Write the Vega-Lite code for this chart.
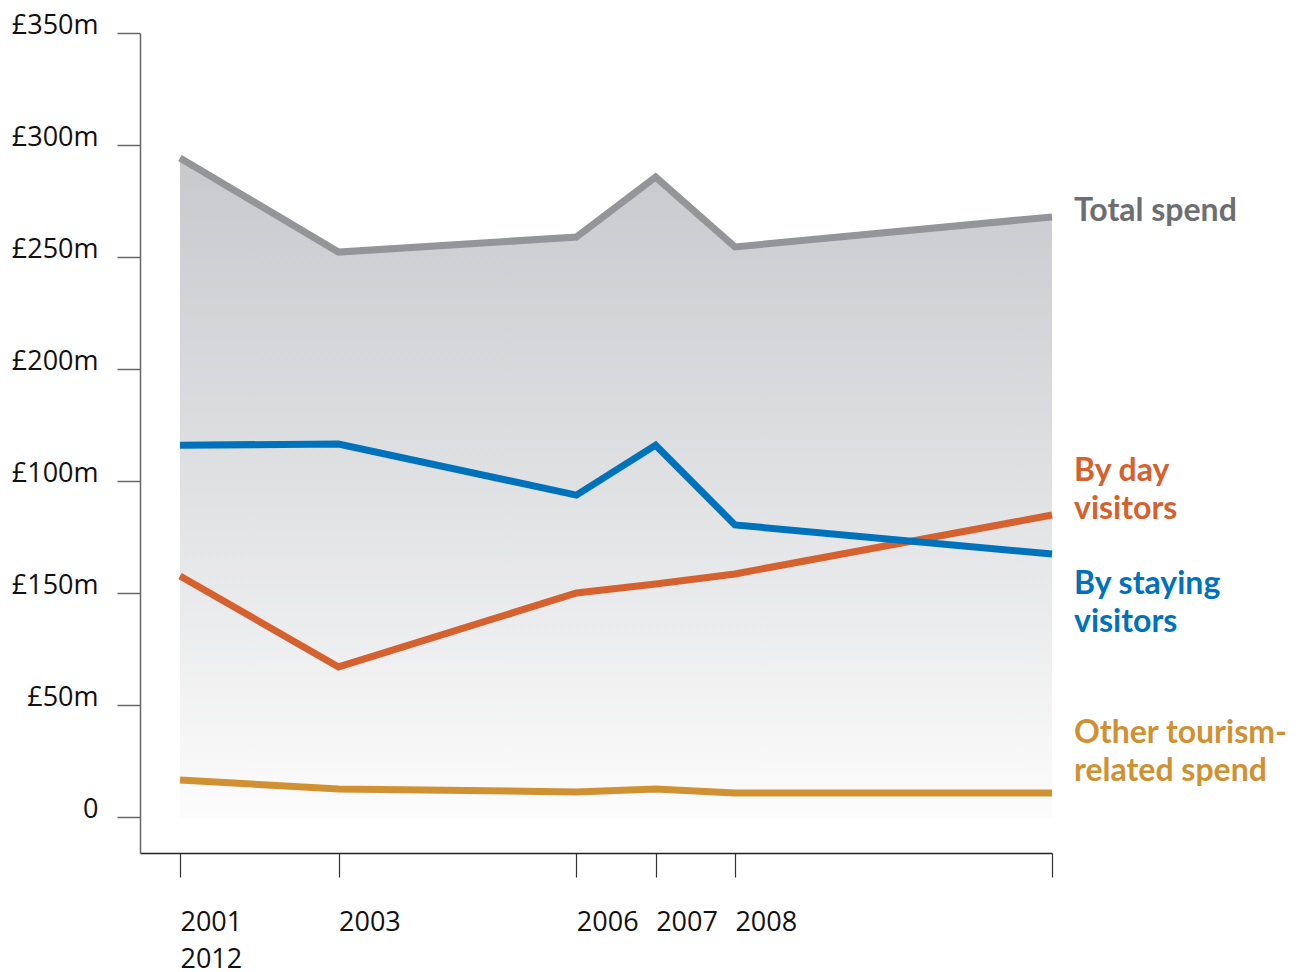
{
  "$schema": "https://vega.github.io/schema/vega-lite/v6.json",
  "autosize": {"type": "none"},
  "padding": {"left": 140, "top": 33, "right": 256, "bottom": 119},
  "width": 912,
  "height": 820,
  "background": "#ffffff",
  "config": {
    "view": {"stroke": null},
    "axis": {"grid": false, "title": null}
  },
  "datasets": {
    "spend": [
      {"year": 2001, "series": "Total spend", "value": 294.2},
      {"year": 2003, "series": "Total spend", "value": 252.2},
      {"year": 2006, "series": "Total spend", "value": 258.9},
      {"year": 2007, "series": "Total spend", "value": 285.7},
      {"year": 2008, "series": "Total spend", "value": 254.5},
      {"year": 2012, "series": "Total spend", "value": 267.9},
      {"year": 2001, "series": "By day visitors", "value": 107.6},
      {"year": 2003, "series": "By day visitors", "value": 67.0},
      {"year": 2006, "series": "By day visitors", "value": 100.0},
      {"year": 2007, "series": "By day visitors", "value": 104.0},
      {"year": 2008, "series": "By day visitors", "value": 108.5},
      {"year": 2012, "series": "By day visitors", "value": 134.8},
      {"year": 2001, "series": "By staying visitors", "value": 166.0},
      {"year": 2003, "series": "By staying visitors", "value": 166.5},
      {"year": 2006, "series": "By staying visitors", "value": 143.7},
      {"year": 2007, "series": "By staying visitors", "value": 166.0},
      {"year": 2008, "series": "By staying visitors", "value": 130.4},
      {"year": 2012, "series": "By staying visitors", "value": 117.4},
      {"year": 2001, "series": "Other tourism-related spend", "value": 16.5},
      {"year": 2003, "series": "Other tourism-related spend", "value": 12.5},
      {"year": 2006, "series": "Other tourism-related spend", "value": 11.2},
      {"year": 2007, "series": "Other tourism-related spend", "value": 12.5},
      {"year": 2008, "series": "Other tourism-related spend", "value": 10.7},
      {"year": 2012, "series": "Other tourism-related spend", "value": 10.7}
    ],
    "labels": [
      {"series": "Total spend", "label": "Total spend", "year": 2012, "value": 266},
      {"series": "By day visitors", "label": "By day\nvisitors", "year": 2012, "value": 150},
      {"series": "By staying visitors", "label": "By staying\nvisitors", "year": 2012, "value": 99.5},
      {"series": "Other tourism-related spend", "label": "Other tourism-\nrelated spend", "year": 2012, "value": 33}
    ]
  },
  "layer": [
    {
      "data": {"name": "spend"},
      "transform": [{"filter": "datum.series == 'Total spend'"}],
      "mark": {
        "type": "area",
        "color": {
          "gradient": "linear",
          "x1": 0, "y1": 0, "x2": 0, "y2": 1,
          "stops": [
            {"offset": 0, "color": "#c8c9cc"},
            {"offset": 0.5, "color": "#e0e1e3"},
            {"offset": 1, "color": "#fcfcfc"}
          ]
        }
      },
      "encoding": {
        "x": {
          "field": "year",
          "type": "quantitative",
          "scale": {"domain": [2000.4955, 2012], "nice": false, "zero": false},
          "axis": {
            "values": [2001, 2003, 2006, 2007, 2008, 2012],
            "format": "d",
            "labelExpr": "datum.value == 2001 ? ['2001', '2012'] : datum.value == 2012 ? '' : datum.label",
            "labelAlign": "left",
            "labelBaseline": "alphabetic",
            "labelLineHeight": 37,
            "labelFont": "Open Sans",
            "labelFontSize": 27,
            "labelColor": "#111111",
            "labelPadding": 53,
            "labelFlush": false,
            "labelOverlap": false,
            "tickSize": 24,
            "tickWidth": 1.2,
            "tickColor": "#333333",
            "domainColor": "#222222",
            "domainWidth": 1.5
          }
        },
        "y": {
          "field": "value",
          "type": "quantitative",
          "scale": {"domain": [-16.07, 350], "nice": false, "zero": false},
          "axis": {
            "values": [0, 50, 100, 150, 200, 250, 300, 350],
            "labelExpr": "datum.value == 0 ? '0' : datum.value == 100 ? '£150m' : datum.value == 150 ? '£100m' : '£' + datum.value + 'm'",
            "labelAlign": "right",
            "labelBaseline": "alphabetic",
            "labelFont": "Open Sans",
            "labelFontSize": 27,
            "labelColor": "#111111",
            "labelPadding": 19,
            "tickSize": 23,
            "tickWidth": 1.5,
            "tickColor": "#666666",
            "domainColor": "#666666",
            "domainWidth": 1.5
          }
        },
        "y2": {"datum": 0}
      }
    },
    {
      "data": {"name": "spend"},
      "mark": {"type": "line", "strokeWidth": 7, "strokeCap": "butt", "strokeJoin": "miter"},
      "encoding": {
        "x": {"field": "year", "type": "quantitative"},
        "y": {"field": "value", "type": "quantitative"},
        "color": {
          "field": "series",
          "type": "nominal",
          "scale": {
            "domain": ["Total spend", "By day visitors", "By staying visitors", "Other tourism-related spend"],
            "range": ["#939598", "#d5612f", "#0072bc", "#d09133"]
          },
          "legend": null
        },
        "order": {"field": "year"}
      }
    },
    {
      "data": {"name": "labels"},
      "mark": {
        "type": "text",
        "align": "left",
        "baseline": "alphabetic",
        "dx": 22,
        "lineBreak": "\n",
        "lineHeight": 38,
        "font": "Lato",
        "fontSize": 32,
        "fontWeight": "bold"
      },
      "encoding": {
        "x": {"field": "year", "type": "quantitative"},
        "y": {"field": "value", "type": "quantitative"},
        "text": {"field": "label"},
        "fill": {
          "field": "series",
          "type": "nominal",
          "scale": {
            "domain": ["Total spend", "By day visitors", "By staying visitors", "Other tourism-related spend"],
            "range": ["#6d6e71", "#d5612f", "#0072bc", "#d09133"]
          },
          "legend": null
        }
      }
    }
  ]
}
